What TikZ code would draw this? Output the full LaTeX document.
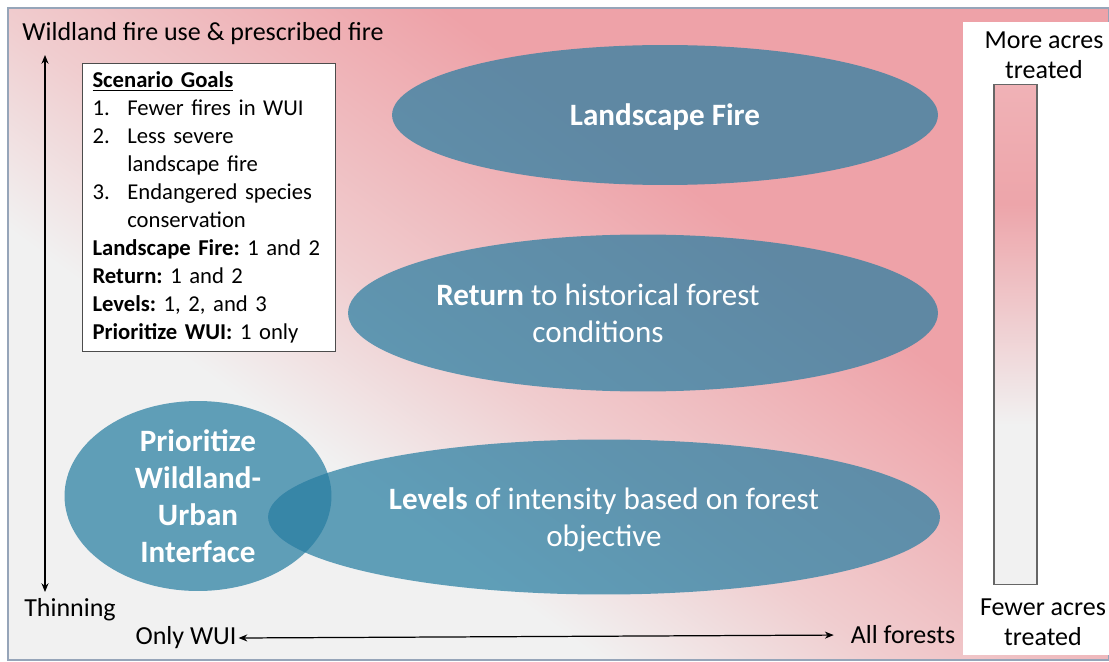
\documentclass[tikz,border=0pt]{standalone}
\usepackage{fontspec}
\setmainfont{Carlito}
\usetikzlibrary{positioning, arrows.meta, shapes.geometric}
\definecolor{bggray}{RGB}{241,241,241}
\definecolor{bgmid}{RGB}{240,205,207}
\definecolor{bgpink}{RGB}{238,162,168}
\definecolor{barpink}{RGB}{237,165,170}
\definecolor{barlight}{RGB}{246,205,208}
\definecolor{blobteal}{RGB}{40,126,162}
\definecolor{framegray}{RGB}{150,165,185}
\pgfdeclareverticalshading{backdrop}{100bp}{color(0bp)=(bggray); color(41.5bp)=(bggray); color(47.5bp)=(bgmid); color(57bp)=(bgpink); color(100bp)=(bgpink)}
\pgfdeclareverticalshading{acres}{100bp}{color(0bp)=(bggray); color(41bp)=(bggray); color(63bp)=(barpink); color(100bp)=(barlight)}
\tikzset{
    blob/.style={ellipse, fill=blobteal, fill opacity=0.72, inner sep=0pt},
    blobtext/.style={text=white, font=\fontsize{17.7}{21}\selectfont, align=center},
    axislabel/.style={font=\fontsize{14.8}{17}\selectfont, align=center, inner sep=1pt},
    axisarrow/.style={{Stealth[length=5pt,width=4pt]}-{Stealth[length=5pt,width=4pt]}, line width=0.7pt},
    goalbox/.style={draw=black!70, fill=white, line width=0.6pt, align=left, text width=4.66cm, inner xsep=0.2cm, inner ysep=0.17cm, font=\frenchspacing\fontsize{12.9}{15.9}\selectfont}
}
\newcommand{\goalnum}[1]{\makebox[19.8pt][l]{#1}}

\begin{document}
\begin{tikzpicture}[x=0.02cm, y=-0.02cm]
    \useasboundingbox (0,0) rectangle (1109,662);

    % backdrop, grey at the bottom left, pink to the top right
    \begin{scope}
        \clip (8,8) rectangle (1109,660);
        \shade[shading=backdrop, shading angle=-36] (-142,-366) rectangle (1258,1034);
    \end{scope}
    \draw[framegray, line width=0.6pt] (8,8) rectangle (1109,660);

    % scenario ellipses
    \node[blob, minimum width=10.92cm, minimum height=2.8cm] (fire) at (665,115) {};
    \node[blob, minimum width=11.8cm, minimum height=3.14cm] (ret) at (643,313) {};
    \node[blob, minimum width=13.44cm, minimum height=3.1cm] (lvl) at (604,517) {};
    \node[blob, minimum width=5.34cm, minimum height=3.8cm] (wui) at (198,496) {};

    \node[blobtext] (firetxt) at ([yshift=-0.04cm]fire.center) {\textbf{Landscape Fire}};
    \node[blobtext] (rettxt) at ([xshift=-0.9cm]ret.center) {\textbf{Return} to historical forest\\conditions};
    \node[blobtext] (lvltxt) at ([yshift=-0.06cm]lvl.center) {\textbf{Levels} of intensity based on forest\\objective};
    \node[blobtext, font=\bfseries\fontsize{17.7}{21}\selectfont] (wuitxt) at (wui.center) {Prioritize\\Wildland-\\Urban\\Interface};

    % goals
    \node[goalbox, anchor=north west] (goals) at (82,63) {%
        \underline{\textbf{Scenario Goals}}\\
        \goalnum{1.}Fewer fires in WUI\\
        \goalnum{2.}Less severe\\
        \goalnum{}landscape fire\\
        \goalnum{3.}Endangered species\\
        \goalnum{}conservation\\
        \textbf{Landscape Fire:} 1 and 2\\
        \textbf{Return:} 1 and 2\\
        \textbf{Levels:} 1, 2, and 3\\
        \textbf{Prioritize WUI:} 1 only};

    % axes
    \node[axislabel] (wfu) at (203,34) {Wildland fire use \& prescribed fire};
    \node[axislabel] (thin) at (70,610) {Thinning};
    \node[axislabel] (onlywui) at (186,638) {Only WUI};
    \node[axislabel] (allfor) at (903,635) {All forests};
    \coordinate (vtop) at (45,55);
    \coordinate (vbot) at (45,592);
    \draw[axisarrow] (vbot) -- (vtop);
    \draw[axisarrow, shorten >=0.3cm] (onlywui.east) -- (allfor.west);

    % acres legend
    \fill[white] (963,22) rectangle (1109,655);
    \node[axislabel] (more) at (1044,55) {More acres\\treated};
    \node[axislabel] (fewer) at (1043,622) {Fewer acres\\treated};
    \node[draw=black!60, line width=0.6pt, shade, shading=acres, minimum width=0.86cm, minimum height=10.02cm, inner sep=0pt] (bar) at (1015.5,334.5) {};
\end{tikzpicture}
\end{document}
